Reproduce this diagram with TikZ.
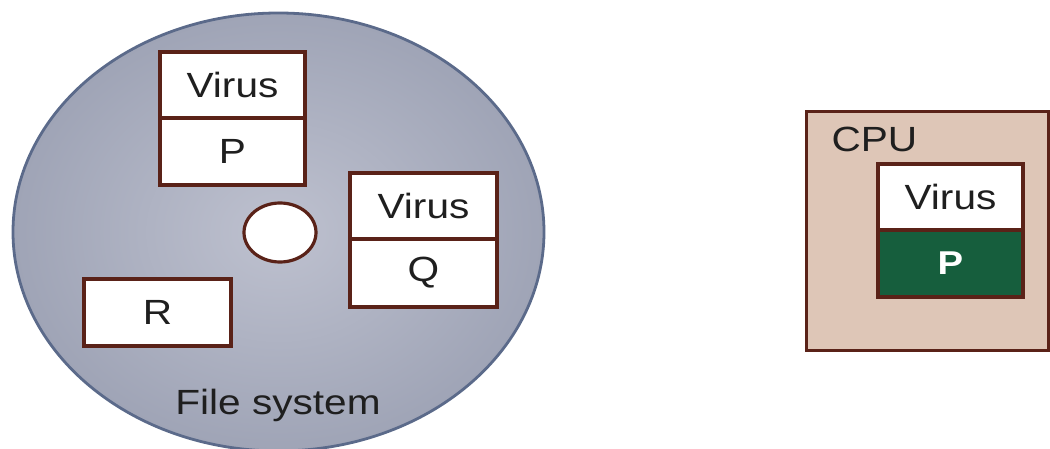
\documentclass[tikz,border=0pt]{standalone}
\usepackage{fontspec}
\usetikzlibrary{shapes.geometric}
\setmainfont{Liberation Sans}[FakeStretch=1.16]
\definecolor{edgebrown}{HTML}{5A2218}
\definecolor{diskedge}{HTML}{5B6A8A}
\definecolor{diskin}{HTML}{BEC1CF}
\definecolor{diskout}{HTML}{9FA4B6}
\definecolor{cpufill}{HTML}{DEC6B7}
\definecolor{pgreen}{HTML}{165E3D}
\tikzset{
  txt/.style={font=\fontsize{35}{40}\selectfont, text=black!88},
  cell/.style={draw=edgebrown, line width=3.2pt, fill=white, inner sep=0pt,
    minimum width=145pt, minimum height=66pt, txt},
}
\begin{document}
\begin{tikzpicture}[x=1pt,y=-1pt]
\useasboundingbox (0,0) rectangle (1050,449);
% file system disk
\node[draw=diskedge, line width=2.8pt, ellipse, minimum width=531pt, minimum height=438pt,
  inner sep=0pt, inner color=diskin, outer color=diskout] (disk) at (278.5,232) {};
\node[txt, anchor=base] (fs) at (278,414) {File system};
% hole
\node[draw=edgebrown, line width=3.2pt, fill=white, ellipse, minimum width=72pt,
  minimum height=59pt, inner sep=0pt] (hole) at (280,232.5) {};
% program P with virus
\node[cell, minimum width=145pt, minimum height=66pt] (pv) at (232.5,85) {Virus};
\node[cell, minimum width=145pt, minimum height=67pt] (pp) at (232.5,151.5) {P};
% program Q with virus
\node[cell, minimum width=147pt, minimum height=66pt] (qv) at (423.5,206) {Virus};
\node[cell, minimum width=147pt, minimum height=68pt] (qq) at (423.5,273) {Q};
% program R
\node[cell, minimum width=147pt, minimum height=67pt] (r) at (157.5,312.5) {R};
% CPU
\node[draw=edgebrown, line width=3pt, fill=cpufill, minimum width=242pt,
  minimum height=238pt, inner sep=0pt] (cpu) at (927,231) {};
\node[txt, anchor=base west] (cpulbl) at (828,152) {CPU};
\node[cell, minimum width=145pt, minimum height=66pt] (cv) at (950.5,197) {Virus};
\node[cell, fill=pgreen, text=white, font=\fontsize{33}{40}\selectfont\bfseries,
  minimum width=145pt, minimum height=67pt] (cp) at (950.5,263.5) {P};
\end{tikzpicture}
\end{document}
